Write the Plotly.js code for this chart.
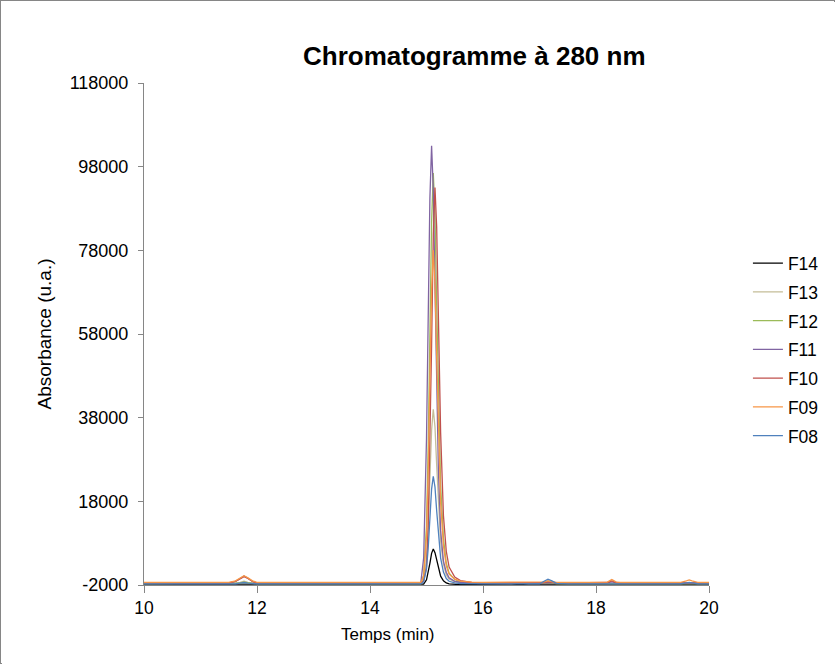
<!DOCTYPE html>
<html>
<head>
<meta charset="utf-8">
<script src="https://cdn.plot.ly/plotly-3.0.1.min.js"></script>
<style>
html,body{margin:0;padding:0;background:#fff;}
#frame{position:absolute;left:0;top:0;width:835px;height:664px;box-sizing:border-box;border:1px solid #868686;}
#chart{position:absolute;left:1px;top:1px;width:833px;height:662px;}
</style>
</head>
<body>
<div id="frame"><div id="chart"></div></div>
<script>
// Retention time (min)
const time = [10.0, 10.5, 11.0, 11.5, 11.62, 11.7, 11.77, 11.84, 11.92, 12.0, 12.5, 12.6, 13.0, 13.5, 14.0, 14.5, 14.9, 14.95, 15.0, 15.03, 15.06, 15.09, 15.12, 15.15, 15.18, 15.21, 15.25, 15.3, 15.35, 15.4, 15.5, 15.6, 15.8, 16.0, 16.5, 16.8, 17.0, 17.08, 17.15, 17.22, 17.3, 17.5, 18.0, 18.2, 18.28, 18.36, 18.5, 19.0, 19.5, 19.6, 19.65, 19.7, 19.8, 20.0];

const seriesNames = ["F14", "F13", "F12", "F11", "F10", "F09", "F08"];

const F14 = [-1800, -1800, -1800, -1800, -1800, -1790, -1780, -1790, -1800, -1800, -1800, -1950, -1950, -1950, -1950, -1950, -1950, -1780, -753, 871, 3180, 5574, 6600, 5745, 3864, 1898, 102, -1010, -1520, -1740, -1865, -1915, -1940, -1950, -1950, -1800, -1800, -1750, -1700, -1750, -1800, -1800, -1800, -1800, -1780, -1800, -1800, -1800, -1800, -1800, -1800, -1800, -1800, -1800];

const F13 = [-1600, -1600, -1600, -1600, -1550, -1350, -1100, -1350, -1550, -1600, -1600, -1600, -1600, -1600, -1600, -1600, -1600, -768, 4224, 12128, 23360, 35008, 40000, 35840, 26688, 17120, 8384, 2976, 480, -560, -1184, -1434, -1558, -1590, -1600, -1600, -1600, -1400, -1000, -1400, -1600, -1600, -1600, -1600, -1550, -1600, -1600, -1600, -1600, -1600, -1550, -1600, -1600, -1600];

const F12 = [-1650, -1650, -1650, -1650, -1600, -1500, -1350, -1500, -1600, -1650, -1650, -1650, -1700, -1700, -1700, -1650, -1650, 313, 12091, 30740, 57240, 84722, 96500, 86685, 65092, 42518, 21906, 9147, 3258, 804, -669, -1257, -1552, -1620, -1650, -1650, -1650, -1550, -1350, -1550, -1650, -1650, -1650, -1650, -1600, -1650, -1650, -1650, -1650, -1650, -1650, -1650, -1650, -1650];

const F11 = [-1550, -1550, -1550, -1550, -1150, -400, 150, -400, -1150, -1550, -1550, -1550, -1550, -1550, -1550, -1550, -1350, 4500, 32952, 61180, 90454, 103000, 92545, 69544, 45498, 25633, 10996, 3678, 1064, -295, -1132, -1341, -1550, -1550, -1550, -1550, -1550, -1500, -1350, -1500, -1550, -1550, -1550, -1500, -1250, -1500, -1550, -1550, -1550, -1550, -1550, -1550, -1550, -1550];

const F10 = [-1500, -1500, -1500, -1500, -1150, -450, 0, -450, -1150, -1500, -1500, -1500, -1500, -1500, -1500, -1500, -1500, -1028, 2280, 11730, 29685, 55200, 81660, 93000, 83550, 62760, 34410, 14565, 6060, 2280, -82, -933, -1405, -1450, -1500, -1500, -1500, -1400, -1200, -1400, -1500, -1500, -1500, -1400, -1000, -1400, -1500, -1500, -1500, -1500, -1450, -1500, -1500, -1500];

const F09 = [-1400, -1400, -1350, -1350, -1000, -300, 200, -300, -1000, -1350, -1380, -1400, -1400, -1400, -1400, -1400, -1400, 188, 9716, 24800, 46240, 68472, 78000, 70060, 52592, 34330, 17656, 7334, 2570, 585, -606, -1082, -1321, -1350, -1380, -1400, -1400, -1250, -1000, -1250, -1400, -1400, -1400, -1300, -700, -1300, -1400, -1400, -1350, -1000, -800, -1000, -1350, -1400];

const F08 = [-1750, -1750, -1750, -1750, -1700, -1550, -1400, -1550, -1700, -1750, -1750, -1750, -1750, -1750, -1750, -1750, -1750, -1235, 1855, 6748, 13700, 20910, 24000, 21425, 15760, 9838, 4430, 1083, -463, -1106, -1493, -1647, -1724, -1740, -1750, -1750, -1700, -1100, -600, -1000, -1600, -1750, -1750, -1750, -1700, -1750, -1750, -1750, -1700, -1500, -1400, -1500, -1700, -1750];

const yTickVals = [-2000, 18000, 38000, 58000, 78000, 98000, 118000];
const xTickVals = [10, 12, 14, 16, 18, 20];

const values = [F14, F13, F12, F11, F10, F09, F08];
const colors = ["#000000", "#c4bd97", "#9bbb59", "#8064a2", "#c0504d", "#f79646", "#4f81bd"];

const FONT = "Liberation Sans, Arial, sans-serif";

const traces = seriesNames.map((n, i) => ({
  x: time, y: values[i], name: n, type: "scatter", mode: "lines",
  legendgroup: n,
  line: {color: colors[i], width: 1.3},
  hoverinfo: "x+y+name"
}));

const layout = {
  width: 833, height: 662,
  margin: {l: 142, r: 125, t: 81, b: 79},
  paper_bgcolor: "#ffffff", plot_bgcolor: "#ffffff",
  font: {family: FONT, size: 17, color: "#000000"},
  title: {
    text: "<b>Chromatogramme à 280 nm</b>",
    font: {family: FONT, size: 26, color: "#000000"},
    x: 0.567, xref: "container", xanchor: "center",
    y: 1 - 54/662, yref: "container", yanchor: "middle"
  },
  xaxis: {
    range: [10, 20], tickvals: xTickVals, ticktext: xTickVals.map(String),
    showgrid: false, zeroline: false, showline: true, linecolor: "#868686", linewidth: 1,
    ticks: "outside", ticklen: 7, tickcolor: "#868686",
    tickfont: {family: FONT, size: 17.5, color: "#000"}
  },
  yaxis: {
    range: [-2000, 118000], tickvals: yTickVals, ticktext: yTickVals.map(String),
    showgrid: false, zeroline: false, showline: true, linecolor: "#868686", linewidth: 1,
    ticks: "outside", ticklen: 5, tickcolor: "#868686",
    ticklabelstandoff: 6,
    tickfont: {family: FONT, size: 18, color: "#000"},
    title: {text: "Absorbance (u.a.)", font: {family: FONT, size: 19, color: "#000"}, standoff: 13}
  },
  annotations: [{
    text: "Temps (min)", xref: "paper", yref: "paper",
    x: 0.431, y: -(632 - 583) / 501, xanchor: "center", yanchor: "middle",
    showarrow: false, font: {family: FONT, size: 17, color: "#000"}
  }],
  legend: {
    x: 1.067, xanchor: "left", y: 1 - 162/501, yanchor: "top",
    font: {family: FONT, size: 17.5, color: "#000"},
    tracegroupgap: 3, traceorder: "grouped",
    bgcolor: "rgba(0,0,0,0)", borderwidth: 0
  },
  showlegend: true
};

Plotly.newPlot("chart", traces, layout, {displayModeBar: false, staticPlot: true});
</script>
</body>
</html>
